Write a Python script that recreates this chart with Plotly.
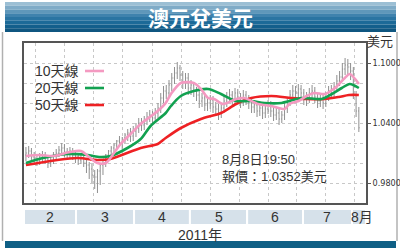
import plotly.graph_objects as go

# ---------------- data ----------------
opens = [1.008, 1.010, 1.012, 1.006, 1.004, 1.002, 1.006, 1.008, 1.004, 1.000, 1.003, 1.007, 1.010, 1.013, 1.015, 1.011, 1.009, 1.012, 1.008,
         1.006, 1.003, 1.005, 1.000, 0.998, 0.994, 0.988, 0.986, 0.992, 0.998, 1.004, 1.008, 1.012, 1.015, 1.018, 1.022, 1.020, 1.025, 1.028, 1.030, 1.027,
         1.032, 1.035, 1.040, 1.038, 1.043, 1.046, 1.048, 1.045, 1.050, 1.055, 1.065, 1.072, 1.070, 1.078, 1.085, 1.090, 1.095, 1.088, 1.080, 1.085,
         1.075, 1.078, 1.072, 1.068, 1.062, 1.065, 1.058, 1.060, 1.063, 1.056, 1.054, 1.050, 1.055, 1.062, 1.066, 1.068, 1.064, 1.070, 1.066, 1.062, 1.068,
         1.064, 1.060, 1.056, 1.058, 1.052, 1.055, 1.050, 1.054, 1.058, 1.052, 1.048, 1.050, 1.044, 1.048, 1.055, 1.062, 1.068, 1.072, 1.070, 1.074,
         1.070, 1.066, 1.064, 1.070, 1.072, 1.066, 1.062, 1.064, 1.060, 1.066, 1.072, 1.070, 1.076, 1.082, 1.086, 1.094, 1.098, 1.096, 1.092, 1.068, 1.052]
closes = [1.010, 1.012, 1.006, 1.004, 1.002, 1.006, 1.008, 1.004, 1.000, 1.003, 1.007, 1.010, 1.013, 1.015, 1.011, 1.009, 1.012, 1.008, 1.006,
          1.003, 1.005, 1.000, 0.998, 0.994, 0.988, 0.986, 0.992, 0.998, 1.004, 1.008, 1.012, 1.015, 1.018, 1.022, 1.020, 1.025, 1.028, 1.030, 1.027, 1.032,
          1.035, 1.040, 1.038, 1.043, 1.046, 1.048, 1.045, 1.050, 1.055, 1.065, 1.072, 1.070, 1.078, 1.085, 1.090, 1.095, 1.088, 1.080, 1.085, 1.075,
          1.078, 1.072, 1.068, 1.062, 1.065, 1.058, 1.060, 1.063, 1.056, 1.054, 1.050, 1.055, 1.062, 1.066, 1.068, 1.064, 1.070, 1.066, 1.062, 1.068, 1.064,
          1.060, 1.056, 1.058, 1.052, 1.055, 1.050, 1.054, 1.058, 1.052, 1.048, 1.050, 1.044, 1.048, 1.055, 1.062, 1.068, 1.072, 1.070, 1.074, 1.070,
          1.066, 1.064, 1.070, 1.072, 1.066, 1.062, 1.064, 1.060, 1.066, 1.072, 1.070, 1.076, 1.082, 1.086, 1.094, 1.098, 1.096, 1.092, 1.068, 1.052, 1.0352]
highs = [1.016, 1.017, 1.015, 1.011, 1.008, 1.010, 1.012, 1.011, 1.008, 1.008, 1.011, 1.014, 1.017, 1.020, 1.019, 1.015, 1.016, 1.015, 1.012,
         1.010, 1.010, 1.009, 1.004, 1.001, 0.999, 0.993, 0.994, 0.998, 1.003, 1.009, 1.013, 1.017, 1.020, 1.023, 1.027, 1.026, 1.030, 1.034, 1.035, 1.037,
         1.040, 1.045, 1.045, 1.047, 1.051, 1.053, 1.052, 1.055, 1.060, 1.070, 1.077, 1.078, 1.083, 1.090, 1.096, 1.101, 1.098, 1.092, 1.090, 1.090,
         1.083, 1.081, 1.076, 1.072, 1.070, 1.070, 1.066, 1.068, 1.067, 1.061, 1.059, 1.060, 1.067, 1.071, 1.074, 1.072, 1.075, 1.074, 1.070, 1.073, 1.072,
         1.068, 1.064, 1.063, 1.062, 1.060, 1.059, 1.059, 1.063, 1.062, 1.056, 1.055, 1.054, 1.052, 1.060, 1.066, 1.073, 1.078, 1.077, 1.079, 1.078,
         1.074, 1.071, 1.075, 1.078, 1.076, 1.070, 1.069, 1.068, 1.071, 1.077, 1.078, 1.081, 1.088, 1.092, 1.100, 1.105, 1.104, 1.100, 1.096, 1.072, 1.056]
lows = [1.002, 1.005, 1.001, 0.999, 0.997, 0.998, 1.001, 0.999, 0.995, 0.996, 0.999, 1.003, 1.006, 1.009, 1.006, 1.004, 1.005, 1.003, 1.000,
        0.998, 0.999, 0.996, 0.990, 0.984, 0.980, 0.974, 0.970, 0.978, 0.988, 0.996, 1.002, 1.006, 1.010, 1.013, 1.016, 1.014, 1.019, 1.022, 1.021, 1.022,
        1.026, 1.030, 1.032, 1.033, 1.038, 1.041, 1.039, 1.040, 1.045, 1.050, 1.060, 1.064, 1.065, 1.072, 1.079, 1.084, 1.082, 1.074, 1.074, 1.068,
        1.068, 1.066, 1.062, 1.055, 1.056, 1.052, 1.052, 1.054, 1.050, 1.047, 1.043, 1.045, 1.050, 1.056, 1.060, 1.058, 1.059, 1.060, 1.055, 1.057, 1.058,
        1.054, 1.050, 1.050, 1.046, 1.047, 1.044, 1.045, 1.049, 1.046, 1.042, 1.043, 1.038, 1.040, 1.043, 1.050, 1.057, 1.062, 1.064, 1.065, 1.064,
        1.058, 1.057, 1.060, 1.064, 1.060, 1.055, 1.056, 1.054, 1.056, 1.062, 1.064, 1.066, 1.071, 1.077, 1.082, 1.088, 1.088, 1.083, 1.064, 1.046, 1.031]
days = list(range(len(closes)))

ma10_x = [0, 5, 10, 16, 20, 23, 26, 29, 32, 34.4, 38, 41.7, 47.9, 50.8, 52.7, 56.3, 61, 63.6, 66.2, 68.4, 71.7, 76.4, 79.3,
          84.4, 89.2, 94, 95.8, 99.1, 102, 104.9, 108.6, 112.3, 115.9, 117.7, 121]
ma10_y = [1.007, 1.008, 1.007, 1.011, 1.012, 1.006, 1.000, 1.000, 1.010, 1.019, 1.029, 1.039, 1.052, 1.060, 1.069, 1.080, 1.080, 1.074, 1.065, 1.064, 1.059, 1.064, 1.065,
          1.059, 1.057, 1.054, 1.059, 1.062, 1.067, 1.070, 1.069, 1.075, 1.085, 1.089, 1.079]
ma20_x = [0, 6.2, 15, 22.3, 27, 30.7, 36.9, 41.7, 45.3, 50.8, 52.7, 56.3, 61, 66.2, 70.9, 76.4, 81.9, 86.7, 92.9, 100.2, 107.5, 111.2, 114.8, 117.7, 121]
ma20_y = [1.000, 1.005, 1.009, 1.008, 1.006, 1.007, 1.015, 1.024, 1.037, 1.050, 1.057, 1.067, 1.072, 1.074, 1.069, 1.062, 1.062, 1.060, 1.060, 1.065, 1.064, 1.069, 1.075, 1.079, 1.075]
ma50_x = [0, 18.6, 26, 30.7, 41.7, 47.9, 50.8, 56.3, 63.6, 70.9, 76.4, 81.9, 89.2, 96.5, 102, 108.6, 113.7, 117.4, 121]
ma50_y = [0.998, 1.005, 1.003, 1.004, 1.015, 1.019, 1.025, 1.035, 1.044, 1.050, 1.059, 1.065, 1.067, 1.065, 1.064, 1.064, 1.066, 1.068, 1.068]

y_tickvals = [0.98, 1.04, 1.10]
y_ticktext = ["0.9800", "1.0400", "1.1000"]
x_gridvals = [3.5, 14, 24.5, 35, 46, 56.5, 67, 77.5, 88, 98.5, 109, 119.5]
month_edges = [-0.7, 18.2, 39.3, 59.6, 80.4, 100.7, 118.5, 123.6]
month_labels = ["2", "3", "4", "5", "6", "7", "8月"]
legend_names = ["10天線", "20天線", "50天線"]
legend_colors = ["#f49ac1", "#12a150", "#ee2124"]

# ---------------- figure ----------------
W, H = 400, 248
L, R, T, B = 24, 366, 43, 203
pw, ph = R - L, B - T


def px(x):
    return (x - L) / pw


def py(y):
    return (B - y) / ph


CJK = "Liberation Sans, Noto Sans CJK TC, sans-serif"

fig = go.Figure()
fig.add_trace(go.Ohlc(x=days, open=opens, high=highs, low=lows, close=closes,
                      increasing=dict(line=dict(color="#909090", width=1)),
                      decreasing=dict(line=dict(color="#909090", width=1)),
                      tickwidth=0.3, hoverinfo="skip", showlegend=False))
for xs, ys, c in [(ma50_x, ma50_y, legend_colors[2]), (ma20_x, ma20_y, legend_colors[1]), (ma10_x, ma10_y, legend_colors[0])]:
    fig.add_trace(go.Scatter(x=xs, y=ys, mode="lines", line=dict(color=c, width=2.6, shape="spline", smoothing=0.8),
                             showlegend=False, hoverinfo="skip"))

shapes = []
annotations = []

# title bar gradient (stripes)
stripe_cols = ["#9cbfd4", "#7fabc7", "#5f97ba", "#3f82ad", "#2a74a2", "#1c6a98", "#135f8c", "#0f5680"]
y0 = 2
step = 30 / len(stripe_cols)
for i, c in enumerate(stripe_cols):
    shapes.append(dict(type="rect", xref="paper", yref="paper", x0=px(5), x1=px(396),
                       y0=py(y0 + (i + 1) * step), y1=py(y0 + i * step), fillcolor=c, line=dict(width=0), layer="below"))
annotations.append(dict(text="<b>澳元兌美元</b>", xref="paper", yref="paper", x=px(200), y=py(17),
                        showarrow=False, font=dict(size=21, color="white", family="Noto Sans CJK TC"),
                        xanchor="center", yanchor="middle"))
# bottom bar
shapes.append(dict(type="rect", xref="paper", yref="paper", x0=px(5), x1=px(396), y0=py(248), y1=py(241),
                   fillcolor="#0f5f85", line=dict(width=0)))
# side border lines
for xx in [2.5, 397]:
    shapes.append(dict(type="line", xref="paper", yref="paper", x0=px(xx), x1=px(xx), y0=py(241), y1=py(32),
                       line=dict(color="#b0b0b0", width=1.5), layer="below"))

# month boxes
for i, lab in enumerate(month_labels):
    shapes.append(dict(type="rect", xref="x", yref="paper", x0=month_edges[i], x1=month_edges[i + 1],
                       y0=py(225), y1=py(209), fillcolor="#d6e1ea", line=dict(color="white", width=2)))
    annotations.append(dict(text=lab, xref="x", yref="paper",
                            x=(month_edges[i] + month_edges[i + 1]) / 2 + (1.2 if i == len(month_labels) - 1 else 0),
                            y=py(217), showarrow=False, xanchor="center", yanchor="middle",
                            font=dict(size=14, color="#333333", family=CJK)))
annotations.append(dict(text="2011年", xref="paper", yref="paper", x=px(200), y=py(235), showarrow=False,
                        xanchor="center", yanchor="middle", font=dict(size=14, color="#333333", family=CJK)))

# legend
for i, (n, c) in enumerate(zip(legend_names, legend_colors)):
    yy = 71 + i * 17
    annotations.append(dict(text=n, xref="paper", yref="paper", x=px(81), y=py(yy), showarrow=False,
                            xanchor="right", yanchor="middle", font=dict(size=14, color="#333333", family=CJK)))
    shapes.append(dict(type="line", xref="paper", yref="paper", x0=px(85), x1=px(104), y0=py(yy), y1=py(yy),
                       line=dict(color=c, width=2.6)))

# note
annotations.append(dict(text="8月8日19:50<br>報價：1.0352美元", xref="paper", yref="paper", x=px(220), y=py(150),
                        showarrow=False, xanchor="left", yanchor="top", align="left",
                        font=dict(size=13, color="#333333", family=CJK)))
# unit
annotations.append(dict(text="美元", xref="paper", yref="paper", x=px(380), y=py(42), showarrow=False,
                        xanchor="center", yanchor="middle", font=dict(size=13, color="#333333", family=CJK)))

fig.update_layout(
    width=W, height=H, margin=dict(l=L, r=W - R, t=T, b=H - B, autoexpand=False),
    paper_bgcolor="white", plot_bgcolor="white",
    shapes=shapes, annotations=annotations, showlegend=False,
    xaxis=dict(range=[month_edges[0], month_edges[-1]], showticklabels=False, ticks="", automargin=False,
               tickvals=x_gridvals, showgrid=True, gridcolor="#c8c8c8", griddash="dot", gridwidth=1,
               showline=True, linecolor="#555555", linewidth=1.5, mirror=True, zeroline=False,
               rangeslider=dict(visible=False), fixedrange=True),
    yaxis=dict(range=[0.96, 1.12], side="right", tickvals=y_tickvals, ticktext=y_ticktext, automargin=False,
               ticks="outside", ticklen=3, tickcolor="#555555",
               tickfont=dict(size=9, color="#333333",
                             family="DejaVu Sans Condensed, Liberation Sans Narrow, Roboto Condensed, Liberation Sans"),
               showgrid=True, gridcolor="#c8c8c8", griddash="dot", gridwidth=1,
               minor=dict(dtick=0.02, tick0=0.96, showgrid=True, gridcolor="#c8c8c8", griddash="dot", ticks=""),
               showline=True, linecolor="#555555", linewidth=1.5, mirror=True, zeroline=False, fixedrange=True),
)
fig.write_html("out.html")
